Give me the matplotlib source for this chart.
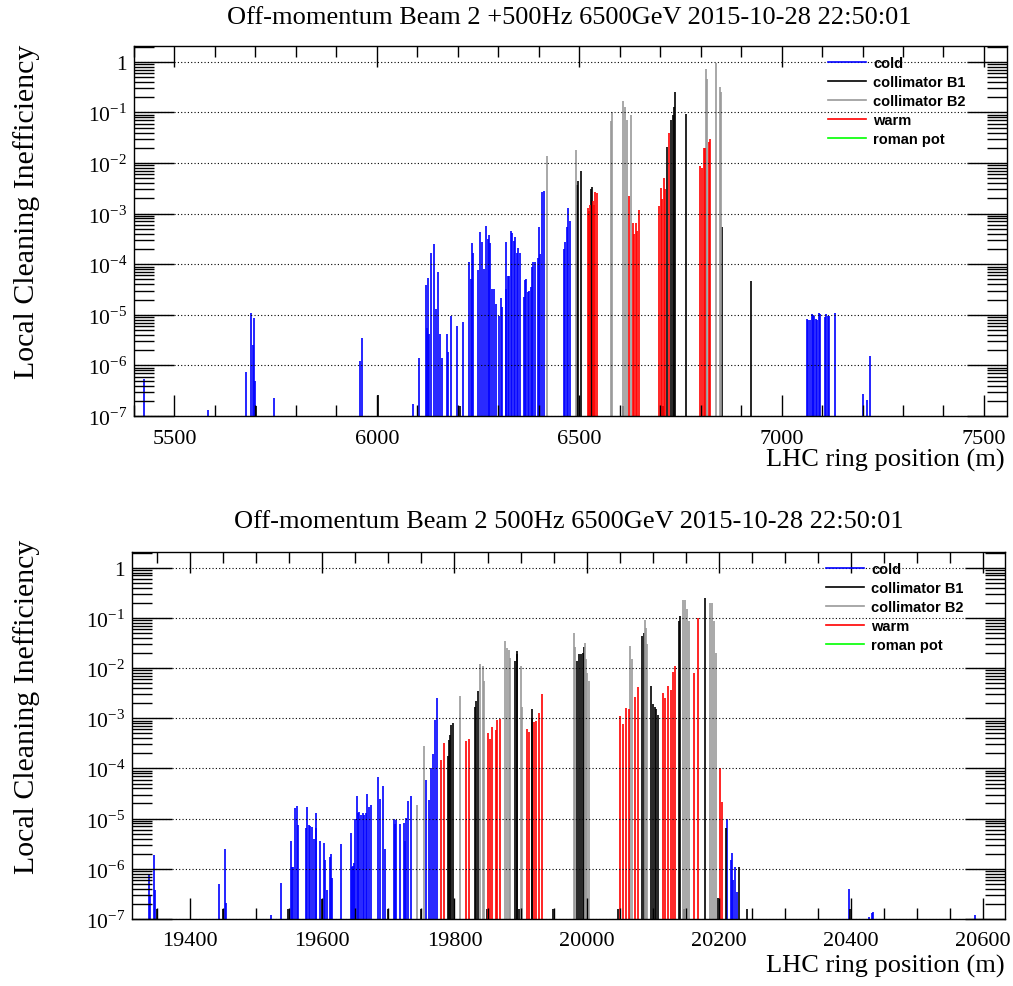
import matplotlib.pyplot as plt
import numpy as np
from matplotlib.lines import Line2D
from matplotlib.ticker import MultipleLocator, LogLocator, FuncFormatter, NullFormatter

plt.rcParams['font.family'] = 'Liberation Serif'
plt.rcParams['mathtext.fontset'] = 'custom'
plt.rcParams['mathtext.rm'] = 'Liberation Serif'

# ---- top panel: +500Hz, s = 5400 .. 7560 m ----
top_cold_s = [5424, 5583, 5676, 5689, 5695, 5697, 5699, 5745, 5958, 5963,
              6089, 6105, 6121, 6124, 6126, 6129, 6134, 6142, 6145, 6151,
              6156, 6161, 6173, 6177, 6182, 6198, 6214, 6228, 6232, 6236,
              6238, 6251, 6254, 6260, 6265, 6270, 6274, 6277, 6280, 6285,
              6289, 6294, 6302, 6307, 6309, 6318, 6320, 6323, 6327, 6331,
              6334, 6338, 6342, 6346, 6349, 6354, 6363, 6366, 6369, 6373,
              6376, 6380, 6383, 6386, 6391, 6397, 6400, 6404, 6407, 6412,
              6463, 6466, 6471, 6473, 6477,
              7063, 7066, 7070, 7074, 7077, 7081, 7085, 7088, 7092, 7096,
              7107, 7110, 7114, 7117, 7131, 7202, 7210, 7219]
top_cold_v = [5.4e-7, 1.3e-7, 7.4e-7, 1.1e-5, 2.5e-6, 8.5e-6, 5.0e-7, 2.3e-7, 1.2e-6, 3.5e-6,
              1.7e-7, 1.4e-6, 3.8e-5, 5.6e-6, 5.4e-5, 4.1e-6, 1.7e-4, 2.5e-4, 1.3e-5, 6.9e-5,
              4.1e-6, 1.4e-6, 4.1e-6, 1.8e-6, 9.5e-6, 5.9e-6, 7.1e-6, 1.1e-4, 5.2e-5, 2.6e-4,
              1.7e-4, 7.8e-5, 4.4e-4, 2.8e-4, 8.1e-5, 5.6e-4, 3.2e-4, 3.8e-4, 2.6e-4, 3.2e-5,
              3.2e-5, 1.6e-5, 9.5e-6, 2.1e-5, 1.4e-5, 3.2e-5, 2.8e-4, 5.8e-5, 5.9e-5, 4.6e-4,
              4.2e-4, 2.9e-4, 3.5e-4, 1.7e-4, 2.1e-4, 1.7e-4, 2.2e-5, 4.9e-5, 5.2e-5, 2.8e-5,
              3.0e-5, 3.6e-5, 8.7e-5, 1.1e-4, 1.1e-4, 1.3e-4, 5.4e-4, 1.6e-4, 2.7e-3, 2.8e-3,
              2.0e-4, 2.8e-4, 5.5e-4, 1.3e-3, 7.1e-4,
              8.3e-6, 7.9e-6, 7.9e-6, 1.05e-5, 1.0e-5, 9.5e-6, 8.3e-6, 7.9e-6, 1.1e-5, 1.05e-5,
              8.9e-6, 1.05e-5, 9.3e-6, 9.3e-6, 1.1e-5, 2.7e-7, 2.1e-7, 1.5e-6]
top_b1_s = [5701, 6004, 6206, 6495, 6498, 6505, 6529, 6532, 6607, 6706,
            6717, 6727, 6731, 6734, 6736, 6765, 6852, 6924]
top_b1_v = [1.6e-7, 2.6e-7, 1.6e-7, 3.7e-3, 4.5e-3, 6.9e-3, 3.1e-3, 3.3e-3, 1.6e-7, 1.6e-7,
            2.1e-2, 7.2e-2, 8.7e-2, 0.13, 0.25, 9.3e-2, 5.4e-4, 4.7e-5]
top_b2_s = [6420, 6493, 6578, 6580, 6609, 6613, 6617, 6628, 6813, 6816, 6839, 6847, 6851]
top_b2_v = [1.35e-2, 1.8e-2, 6.6e-2, 0.10, 0.17, 0.13, 7.2e-2, 8.9e-2, 0.72, 0.46, 0.95, 0.32, 0.25]
top_warm_s = [6522, 6524, 6527, 6535, 6537, 6540, 6545, 6624, 6633, 6636, 6640, 6643, 6648,
              6696, 6701, 6704, 6709, 6712, 6721, 6799, 6804, 6808, 6811, 6820, 6824]
top_warm_v = [1.3e-3, 1.1e-3, 1.5e-3, 1.8e-3, 1.5e-3, 2.7e-3, 2.5e-3, 2.2e-3, 6.5e-4, 4.0e-4,
              6.5e-4, 4.6e-4, 1.2e-3, 1.4e-3, 3.2e-3, 1.9e-3, 5.0e-3, 3.1e-3, 3.9e-2, 8.9e-3,
              7.9e-3, 2.0e-2, 2.0e-2, 2.6e-2, 3.0e-2]
top_rp_s, top_rp_v = [], []

# ---- bottom panel: 500Hz, s = 19312 .. 20633 m ----
bot_cold_s = [19337, 19340, 19345, 19347, 19444, 19452, 19455, 19522, 19538, 19552,
              19554, 19556, 19559, 19561, 19563, 19575, 19577, 19580, 19582, 19585,
              19588, 19590, 19591, 19597, 19602, 19604, 19607, 19611, 19613, 19615,
              19629, 19643, 19645, 19647, 19648, 19650, 19652, 19654, 19656, 19659,
              19661, 19663, 19666, 19668, 19670, 19673, 19684, 19687, 19692, 19695,
              19708, 19710, 19712, 19718, 19723, 19725, 19727, 19730, 19734, 19757,
              19761, 19765, 19768, 19771, 19774,
              20213, 20218, 20220, 20222, 20225, 20228, 20397, 20427, 20431, 20434, 20587]
bot_cold_v = [7.8e-7, 2.9e-7, 1.9e-6, 3.8e-7, 5.0e-7, 2.5e-6, 2.1e-7, 1.2e-7, 5.2e-7, 3.6e-6,
              1.1e-6, 1.1e-6, 1.6e-5, 1.8e-5, 7.4e-6, 6.6e-6, 1.7e-5, 7.4e-6, 7.2e-6, 6.9e-6,
              4.0e-6, 1.3e-5, 6.6e-6, 3.6e-6, 3.2e-6, 1.5e-6, 3.7e-7, 1.7e-6, 2.0e-6, 6.5e-7,
              3.1e-6, 5.2e-6, 1.1e-6, 1.15e-6, 1.3e-6, 1.0e-5, 2.8e-5, 1.3e-5, 1.35e-5, 1.2e-5,
              1.3e-5, 1.2e-5, 1.3e-5, 3.1e-5, 1.7e-5, 1.9e-5, 6.6e-5, 2.5e-5, 4.5e-5, 2.5e-6,
              1.0e-5, 7.8e-6, 9.3e-6, 7.8e-6, 8.3e-6, 3.6e-6, 1.05e-5, 2.2e-5, 2.8e-5, 6.0e-5,
              2.3e-5, 1.0e-4, 1.9e-4, 9.1e-4, 2.5e-3,
              1.0e-5, 1.5e-6, 2.1e-6, 6.0e-7, 1.1e-6, 3.4e-7, 4.0e-7, 1.1e-7, 1.3e-7, 1.4e-7, 1.2e-7]
bot_b1_s = [19350, 19450, 19548, 19599, 19699, 19749, 19790, 19791, 19793, 19795,
            19797, 19831, 19833, 19835, 19849, 19892, 19894, 19895, 19898, 19917,
            19918, 19949, 19986, 19989, 19991, 19994, 19996, 20048, 20084, 20086,
            20098, 20100, 20103, 20105, 20108, 20139, 20141, 20148, 20179, 20198,
            20211, 20230, 20242, 20399]
bot_b1_v = [1.6e-7, 1.6e-7, 1.6e-7, 2.5e-7, 1.6e-7, 1.6e-7, 1.8e-4, 3.7e-4, 4.6e-4, 7.2e-4,
            7.9e-4, 1.7e-3, 2.2e-3, 3.5e-3, 1.6e-7, 1.4e-2, 1.9e-2, 2.2e-2, 1.6e-7, 1.0e-3,
            1.5e-3, 1.6e-7, 1.4e-2, 1.9e-2, 1.9e-2, 2.0e-2, 2.6e-2, 1.6e-7, 4.3e-2, 5.1e-2,
            4.3e-3, 1.9e-3, 1.7e-3, 1.5e-3, 1.15e-3, 8.5e-2, 0.11, 1.6e-7, 0.25, 2.6e-7,
            6.6e-6, 1.1e-6, 1.6e-7, 1.6e-7]
bot_b2_s = [19744, 19754, 19808, 19838, 19843, 19845, 19877, 19879, 19882, 19884,
            19900, 19902, 19981, 19983, 19997, 19999, 20001, 20003, 20066, 20068,
            20088, 20090, 20092, 20146, 20149, 20152, 20155, 20186, 20189, 20193, 20196]
bot_b2_v = [1.9e-5, 2.8e-4, 2.8e-3, 1.2e-2, 1.1e-2, 5.5e-3, 3.4e-2, 2.5e-2, 2.3e-2, 1.6e-2,
            1.1e-2, 1.7e-3, 4.9e-2, 2.6e-2, 3.2e-2, 1.5e-2, 7.9e-3, 5.5e-3, 2.8e-2, 1.5e-2,
            8.9e-2, 6.3e-2, 3.0e-2, 0.23, 0.23, 0.15, 8.5e-2, 0.20, 0.20, 8.5e-2, 2.0e-2]
bot_warm_s = [19779, 19784, 19817, 19822, 19850, 19853, 19856, 19863, 19865, 19869,
              19909, 19912, 19921, 19924, 19928, 19932, 20051, 20055, 20060, 20064,
              20073, 20077, 20116, 20119, 20123, 20127, 20130, 20133, 20163, 20169,
              20202, 20205]
bot_warm_v = [1.5e-4, 3.2e-4, 3.5e-4, 3.9e-4, 5.1e-4, 3.9e-4, 6.8e-4, 5.8e-4, 9.1e-4, 9.8e-4,
              6.2e-4, 5.2e-4, 8.3e-4, 8.7e-4, 1.3e-3, 3.1e-3, 1.1e-3, 7.6e-4, 1.6e-3, 1.5e-3,
              2.6e-3, 4.1e-3, 3.2e-3, 2.5e-3, 4.4e-3, 3.7e-3, 8.3e-3, 1.1e-2, 7.9e-3, 0.10,
              1.0e-4, 2.1e-5]
bot_rp_s, bot_rp_v = [], []

labels = ['cold', 'collimator B1', 'collimator B2', 'warm', 'roman pot']
colors = ['#0000ff', '#000000', '#999999', '#ff0000', '#00ff00']


def decade(v, pos):
    e = int(round(np.log10(v)))
    return '1' if e == 0 else r'$10^{%d}$' % e


def panel(ax, series, xlim, major, minor, title, title_y):
    for (s, v), c in zip(series, colors):
        if len(s):
            ax.vlines(s, 1e-8, v, colors=c, lw=1.2)
    ax.set_yscale('log')
    ax.set_ylim(1e-7, 2.05)
    ax.set_xlim(*xlim)
    ax.xaxis.set_major_locator(MultipleLocator(major))
    ax.xaxis.set_minor_locator(MultipleLocator(minor))
    ax.yaxis.set_major_locator(LogLocator(base=10, numticks=20))
    ax.yaxis.set_minor_locator(LogLocator(base=10, subs=np.arange(2, 10), numticks=20))
    ax.yaxis.set_major_formatter(FuncFormatter(decade))
    ax.yaxis.set_minor_formatter(NullFormatter())
    ax.tick_params(which='both', direction='in', top=True, right=True, width=1.0)
    ax.tick_params(axis='x', which='major', length=15, pad=9, labelsize=16)
    ax.tick_params(axis='x', which='minor', length=8)
    ax.tick_params(axis='y', which='major', length=29, pad=5, labelsize=15.5)
    ax.tick_params(axis='y', which='minor', length=14.5)
    ax.grid(axis='y', which='major', linestyle=(0, (1, 2)), color='black', lw=0.8)
    ax.set_axisbelow(False)
    for sp in ax.spines.values():
        sp.set_linewidth(1.0)
    handles = [Line2D([], [], color=c, lw=1.2) for c in colors]
    ax.legend(handles, labels, loc='upper left', bbox_to_anchor=(0.795, 0.972),
              frameon=False, borderpad=0, borderaxespad=0, handlelength=2.6,
              handletextpad=0.5, labelspacing=0.34,
              prop={'family': 'Liberation Sans', 'weight': 'bold', 'size': 10.5})
    ax.figure.text(0.562, title_y, title, ha='center', va='center', fontsize=19)


fig = plt.figure(figsize=(10.13, 9.87), dpi=100)
ax1 = fig.add_axes([0.1323, 0.5775, 0.8618, 0.3749])
ax2 = fig.add_axes([0.1303, 0.0679, 0.8618, 0.3718])

panel(ax1, [(top_cold_s, top_cold_v), (top_b1_s, top_b1_v), (top_b2_s, top_b2_v),
            (top_warm_s, top_warm_v), (top_rp_s, top_rp_v)],
      (5400, 7557), 500, 100,
      'Off-momentum Beam 2 +500Hz 6500GeV 2015-10-28 22:50:01', 1 - 18 / 987)
panel(ax2, [(bot_cold_s, bot_cold_v), (bot_b1_s, bot_b1_v), (bot_b2_s, bot_b2_v),
            (bot_warm_s, bot_warm_v), (bot_rp_s, bot_rp_v)],
      (19312, 20633), 200, 50,
      'Off-momentum Beam 2 500Hz 6500GeV 2015-10-28 22:50:01', 1 - 522 / 987)

for y_top, y_x in [(45, 460), (540, 966)]:
    fig.text(27 / 1013, 1 - y_top / 987, 'Local Cleaning Inefficiency', rotation=90,
             ha='center', va='top', fontsize=21.5)
    fig.text(1005 / 1013, 1 - y_x / 987, 'LHC ring position (m)', ha='right',
             va='center', fontsize=19)

fig.savefig('out.png', dpi=100)
